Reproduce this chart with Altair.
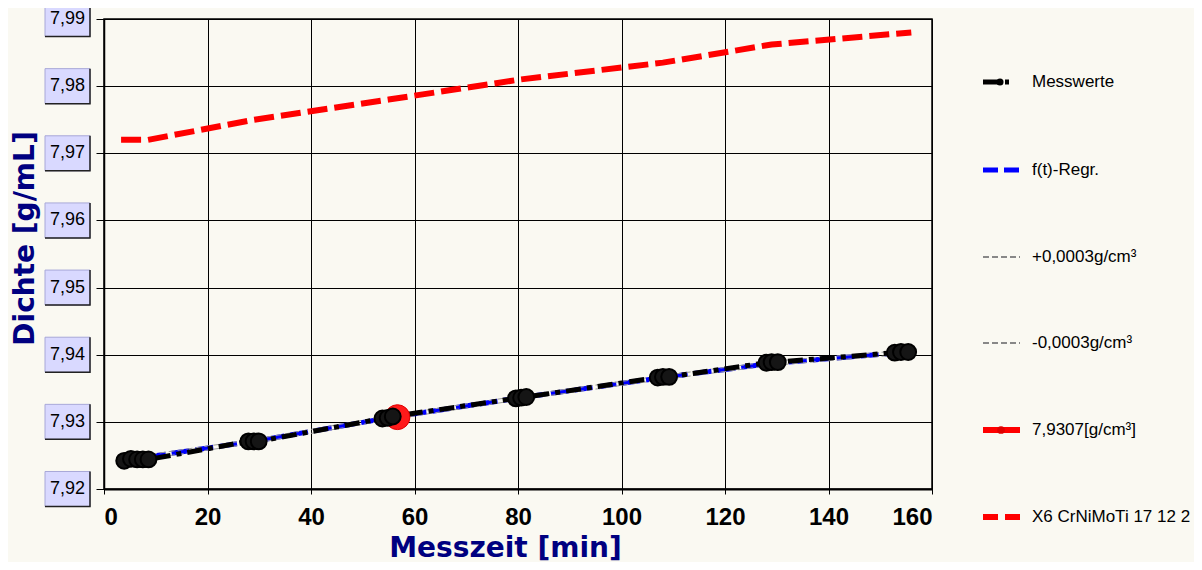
import altair as alt
import pandas as pd

# ---------------- data ----------------
mess_t = [3.9, 5.2, 6.4, 7.5, 8.6, 27.9, 28.9, 29.9, 53.8, 54.8, 55.8,
          79.6, 80.6, 81.6, 107.0, 108.0, 109.2, 128.0, 129.0, 130.2,
          152.8, 154.0, 155.4]
mess_v = [7.9242, 7.9245, 7.9244, 7.9244, 7.9244, 7.9271, 7.9271, 7.9271,
          7.9305, 7.9306, 7.9308, 7.9335, 7.9336, 7.9337, 7.9366, 7.9367,
          7.9367, 7.9388, 7.9389, 7.9389, 7.9403, 7.9404, 7.9404]

reg_t = [3.9, 29.0, 55.0, 80.5, 108.0, 129.0, 155.4]
reg_v = [7.9243, 7.9271, 7.9306, 7.9336, 7.9366, 7.9387, 7.9404]
plus_v = [7.9246, 7.9274, 7.9309, 7.9339, 7.9369, 7.9390, 7.9407]
minus_v = [7.9240, 7.9268, 7.9303, 7.9333, 7.9363, 7.9384, 7.9401]

ref_t = [3.3, 8.5, 29.0, 55.0, 80.5, 108.0, 129.0, 156.0]
ref_v = [7.9720, 7.9720, 7.9750, 7.9780, 7.9810, 7.9835, 7.9862, 7.9880]

point_t = [56.7]
point_v = [7.9307]

y_ticks = [7.92, 7.93, 7.94, 7.95, 7.96, 7.97, 7.98, 7.99]
y_tick_labels = ["7,92", "7,93", "7,94", "7,95", "7,96", "7,97", "7,98", "7,99"]
x_ticks = [0, 20, 40, 60, 80, 100, 120, 140, 160]

legend_labels = ["Messwerte", "f(t)-Regr.", "+0,0003g/cm³", "-0,0003g/cm³",
                 "7,9307[g/cm³]", "X6 CrNiMoTi 17 12 2"]

# ---------------- styling ----------------
FONT = "Liberation Sans"
TFONT = "DejaVu Sans"
BG = "#FAF9F2"
NAVY = "#000080"

mess_df = pd.DataFrame({"t": mess_t, "v": mess_v})
reg_df = pd.DataFrame({"t": reg_t, "v": reg_v})
plus_df = pd.DataFrame({"t": reg_t, "v": plus_v})
minus_df = pd.DataFrame({"t": reg_t, "v": minus_v})
ref_df = pd.DataFrame({"t": ref_t, "v": ref_v})
pt_df = pd.DataFrame({"t": point_t, "v": point_v})
tick_df = pd.DataFrame({"v": y_ticks, "lab": y_tick_labels})

xs = alt.Scale(domain=[0, 160], nice=False, zero=False)
ys = alt.Scale(domain=[7.92, 7.99], nice=False, zero=False)

x_axis = alt.Axis(values=x_ticks, format="d", grid=True, gridColor="black",
                  gridWidth=1, gridOpacity=1, domainColor="black", domainWidth=2,
                  tickColor="black", tickSize=5, labelFont=FONT, labelFontSize=24,
                  labelFontWeight="bold", labelColor="black", labelPadding=11,
                  title="Messzeit [min]", titleFont=TFONT, titleFontSize=28,
                  titleFontWeight="bold", titleColor=NAVY, titleX=401, titleY=59,
                  titleBaseline="middle", titleAlign="center")
y_axis = alt.Axis(values=y_ticks, labels=False, grid=True, gridColor="black",
                  gridWidth=1, gridOpacity=1, domainColor="black", domainWidth=1.5,
                  tickColor="black", tickSize=8,
                  title="Dichte [g/mL]", titleFont=TFONT, titleFontSize=28,
                  titleFontWeight="bold", titleColor=NAVY, titleX=-79, titleY=219,
                  titleAngle=-90, titleBaseline="middle", titleAlign="center")

X = alt.X("t:Q", scale=xs, axis=x_axis)
Y = alt.Y("v:Q", scale=ys, axis=y_axis)
Xn = alt.X("t:Q", scale=xs)
Yn = alt.Y("v:Q", scale=ys)

ref_line = alt.Chart(ref_df).mark_line(color="#FF0000", strokeWidth=6,
                                       strokeDash=[20, 7]).encode(x=X, y=Y)
reg_line = alt.Chart(reg_df).mark_line(color="#0000FF", strokeWidth=5,
                                       strokeDash=[18, 6]).encode(x=Xn, y=Yn)
plus_line = alt.Chart(plus_df).mark_line(color="#999999", strokeWidth=1,
                                         strokeDash=[6, 3]).encode(x=Xn, y=Yn)
minus_line = alt.Chart(minus_df).mark_line(color="#999999", strokeWidth=1,
                                           strokeDash=[6, 3]).encode(x=Xn, y=Yn)
mess_line = alt.Chart(mess_df).mark_line(color="black", strokeWidth=5,
                                         strokeDash=[15, 6, 5, 6]).encode(x=Xn, y=Yn)
red_pt = alt.Chart(pt_df).mark_point(shape="circle", filled=True, size=620,
                                     color="#FF1A1A", stroke="#E00000",
                                     strokeWidth=1, opacity=1).encode(x=Xn, y=Yn)
mess_pts = alt.Chart(mess_df).mark_point(shape="circle", filled=True, size=250,
                                         fill="#151515", stroke="black",
                                         strokeWidth=2, opacity=1).encode(x=Xn, y=Yn)

# y tick label boxes (lavender) drawn at the tick values
BOX = "M-1,-0.7778H1V0.7778H-1Z"
SHADOW = "M1,-0.7778V0.7778H-1"
box_x = -36.5
boxes = alt.Chart(tick_df).mark_point(shape=BOX, size=2025, filled=True,
                                      fill="#D9D9FF", stroke="#A8A8D8",
                                      strokeWidth=1, opacity=1).encode(
    x=alt.value(box_x), y=alt.Y("v:Q", scale=ys))
shadows = alt.Chart(tick_df).mark_point(shape=SHADOW, size=2025, filled=False,
                                        stroke="#222222", strokeWidth=1.5,
                                        opacity=1).encode(
    x=alt.value(box_x), y=alt.Y("v:Q", scale=ys))
box_text = alt.Chart(tick_df).mark_text(font=FONT, fontSize=18, color="black",
                                        align="center", baseline="middle").encode(
    x=alt.value(box_x), y=alt.Y("v:Q", scale=ys), text="lab:N")

# ---------------- manual legend ----------------
leg_y = [63, 151, 238, 324, 411, 498]
lx1, lx2, ltx = 879, 916, 928
one = pd.DataFrame({"a": [0]})
leg_layers = []

def seg(y, color, width, dash=None):
    kw = dict(color=color, strokeWidth=width)
    if dash is not None:
        kw["strokeDash"] = dash
    return alt.Chart(one).mark_rule(**kw).encode(
        x=alt.value(lx1), x2=alt.value(lx2), y=alt.value(y))

leg_layers.append(seg(leg_y[0], "black", 5, [17, 5, 4, 100]))
leg_layers.append(alt.Chart(one).mark_point(shape="circle", filled=True, size=50,
                                            color="black", opacity=1).encode(
    x=alt.value(lx1 + 17), y=alt.value(leg_y[0])))
leg_layers.append(seg(leg_y[1], "#0000FF", 5, [15, 6]))
leg_layers.append(seg(leg_y[2], "#888888", 2, [6, 3]))
leg_layers.append(seg(leg_y[3], "#888888", 2, [6, 3]))
leg_layers.append(seg(leg_y[4], "#FF0000", 6))
leg_layers.append(alt.Chart(one).mark_point(shape="circle", filled=True, size=60,
                                            color="#E00000", opacity=1).encode(
    x=alt.value(lx1 + 18), y=alt.value(leg_y[4])))
leg_layers.append(seg(leg_y[5], "#FF0000", 6, [15, 7]))
for lab, yy in zip(legend_labels, leg_y):
    leg_layers.append(alt.Chart(one).mark_text(
        text=lab, font=FONT, fontSize=17, color="black", align="left",
        baseline="middle").encode(x=alt.value(ltx), y=alt.value(yy)))

chart = alt.layer(
    ref_line, reg_line, plus_line, minus_line, mess_line, red_pt, mess_pts,
    boxes, shadows, box_text, *leg_layers
).properties(
    width=828, height=470, background=BG,
    padding={"left": 96, "top": 11, "right": 262, "bottom": 73},
    autosize=alt.AutoSizeParams(type="none"),
).configure_view(stroke="black", strokeWidth=1.5, fill=BG)

chart.save("out.html", embed_options={"renderer": "svg", "actions": False})
